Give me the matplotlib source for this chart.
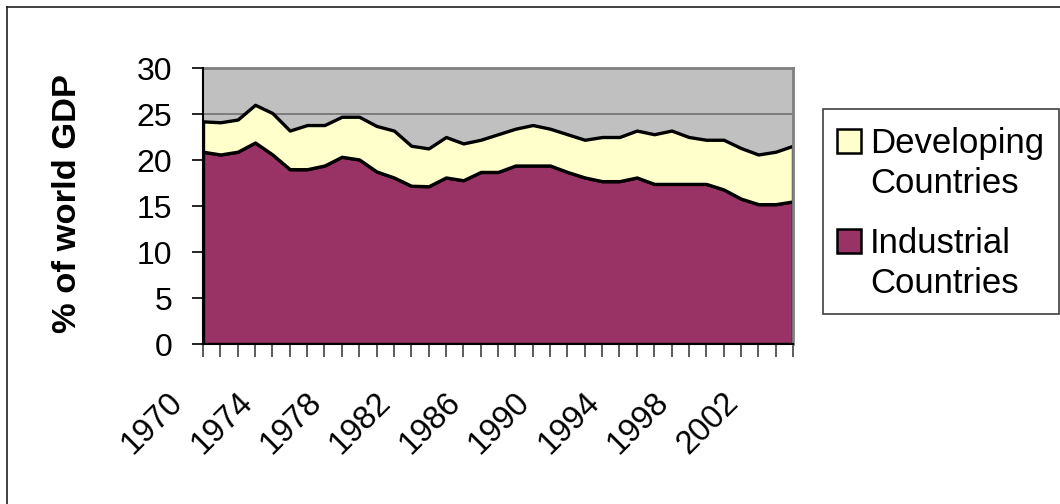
import matplotlib
matplotlib.use("Agg")
import matplotlib.pyplot as plt
import matplotlib.transforms as mtransforms
from matplotlib.patches import Rectangle
from matplotlib.lines import Line2D

plt.rcParams['font.family'] = ['Liberation Sans', 'DejaVu Sans']

years = list(range(1970, 2005))
total = [24.2, 24.1, 24.4, 26.0, 25.1, 23.2, 23.8, 23.8, 24.7, 24.7,
         23.7, 23.2, 21.55, 21.26, 22.5, 21.8, 22.2, 22.8, 23.4, 23.8,
         23.4, 22.8, 22.2, 22.5, 22.5, 23.2, 22.8, 23.2, 22.5, 22.2,
         22.2, 21.3, 20.6, 20.9, 21.55]
industrial = [20.9, 20.6, 20.9, 21.9, 20.6, 19.0, 19.0, 19.4, 20.35, 20.06,
              18.75, 18.1, 17.2, 17.15, 18.1, 17.8, 18.7, 18.7, 19.4, 19.4,
              19.4, 18.7, 18.1, 17.7, 17.7, 18.1, 17.4, 17.4, 17.4, 17.4,
              16.8, 15.8, 15.2, 15.2, 15.5]
developing = [round(t - i, 2) for t, i in zip(total, industrial)]
series_names = ["Developing\nCountries", "Industrial\nCountries"]
label_step = 4
ylabel = "% of world GDP"

W, H = 1060, 504
fig = plt.figure(figsize=(W / 100, H / 100), dpi=100)

def fx(px):
    return px / W

def fy(py):
    return 1 - py / H

# outer frame (left and top visible)
fig.add_artist(Line2D([fx(7), fx(7)], [fy(504), fy(7)], color='#202020', lw=1.2))
fig.add_artist(Line2D([fx(7), fx(1060)], [fy(7), fy(7)], color='#202020', lw=1.2))

L, R, T, B = 203, 793, 68, 344
ax = fig.add_axes([fx(L), fy(B), fx(R - L), (B - T) / H])
ax.set_facecolor('#C0C0C0')
ax.set_axisbelow(True)
ax.yaxis.grid(True, color='#707070', lw=1.2)

ax.stackplot(years, industrial, developing,
             colors=['#993366', '#FFFFCC'], edgecolor='black', linewidth=2.4,
             zorder=2)

ax.set_xlim(years[0], years[-1])
ax.set_ylim(0, 30)
ax.set_yticks(range(0, 31, 5))
ax.set_xticks(years)
ax.set_xticklabels([str(y) if (y - years[0]) % label_step == 0 else '' for y in years])

for s in ['top', 'right']:
    ax.spines[s].set_color('#808080')
    ax.spines[s].set_linewidth(2)
for s in ['left', 'bottom']:
    ax.spines[s].set_color('black')
    ax.spines[s].set_linewidth(1.5)
    ax.spines[s].set_zorder(3)

ax.tick_params(axis='y', direction='out', length=8, width=1.2, pad=14,
               labelsize=23, color='black')
ax.tick_params(axis='x', direction='out', length=9, width=1.2, pad=22,
               labelsize=23.5, color='#404040')
offset = mtransforms.ScaledTranslation(-14 / 100, 0, fig.dpi_scale_trans)
for lab in ax.get_xticklabels():
    lab.set_rotation(45)
    lab.set_ha('right')
    lab.set_va('top')
    lab.set_transform(lab.get_transform() + offset)

fig.text(fx(68), fy(204), ylabel, rotation=90, ha='center', va='center',
         fontsize=24.8, fontweight='bold')

# legend
fig.add_artist(Rectangle((fx(823), fy(314)), fx(1059 - 823), (314 - 109) / H,
                         facecolor='white', edgecolor='#404040', lw=1.2))
colors = ['#FFFFCC', '#993366']
tops = [129, 229]
for name, c, t in zip(series_names, colors, tops):
    fig.add_artist(Rectangle((fx(837), fy(t + 24)), fx(24), 24 / H,
                             facecolor=c, edgecolor='black', lw=1.8))
    fig.text(fx(870), fy(t - 2), name, ha='left', va='top', fontsize=25,
             linespacing=1.27)

fig.savefig('out.png', dpi=100)
